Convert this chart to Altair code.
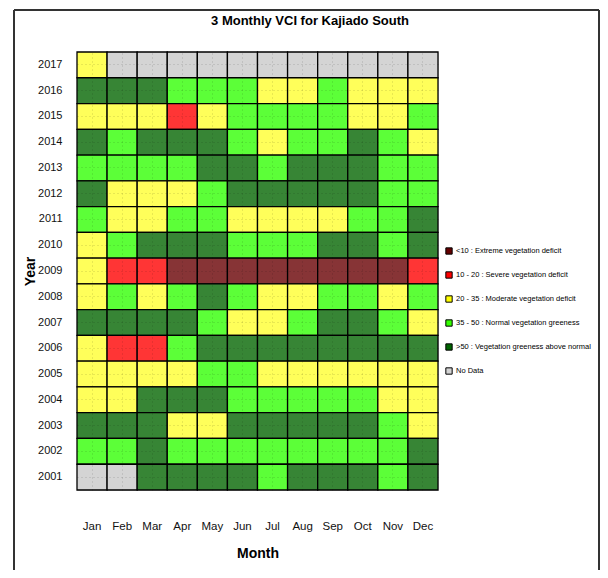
import altair as alt
import pandas as pd

# ---------------- data ----------------
months = ["Jan", "Feb", "Mar", "Apr", "May", "Jun", "Jul", "Aug", "Sep", "Oct", "Nov", "Dec"]
years = [2017, 2016, 2015, 2014, 2013, 2012, 2011, 2010, 2009,
         2008, 2007, 2006, 2005, 2004, 2003, 2002, 2001]

class_codes = ["E", "S", "M", "N", "A", "X"]
class_labels = [
    "<10 : Extreme vegetation deficit",
    "10 - 20 : Severe vegetation deficit",
    "20 - 35 : Moderate vegetation deficit",
    "35 - 50 : Normal vegetation greeness",
    ">50 : Vegetation greeness above normal",
    "No Data",
]
legend_colors = ["#640000", "#FF0000", "#FFFF00", "#33FF00", "#006400", "#D3D3D3"]
cell_colors = ["#873436", "#FF3535", "#FFFF5A", "#5CFF38", "#378535", "#D4D4D4"]

# VCI class per month (Jan..Dec) for each year
vci_2017 = ["M", "X", "X", "X", "X", "X", "X", "X", "X", "X", "X", "X"]
vci_2016 = ["A", "A", "A", "N", "N", "N", "M", "M", "N", "M", "M", "M"]
vci_2015 = ["M", "M", "M", "S", "M", "N", "N", "N", "N", "M", "M", "N"]
vci_2014 = ["A", "N", "A", "A", "A", "N", "M", "N", "N", "A", "N", "M"]
vci_2013 = ["N", "N", "N", "N", "A", "A", "N", "A", "A", "A", "N", "N"]
vci_2012 = ["A", "M", "M", "M", "N", "A", "A", "A", "A", "A", "N", "N"]
vci_2011 = ["N", "M", "M", "N", "N", "M", "M", "M", "M", "N", "N", "A"]
vci_2010 = ["M", "N", "A", "A", "A", "N", "N", "N", "A", "A", "N", "A"]
vci_2009 = ["M", "S", "S", "E", "E", "E", "E", "E", "E", "E", "E", "S"]
vci_2008 = ["M", "N", "M", "N", "A", "N", "M", "M", "N", "N", "M", "N"]
vci_2007 = ["A", "A", "A", "A", "N", "M", "M", "N", "A", "A", "N", "M"]
vci_2006 = ["M", "S", "S", "N", "A", "A", "A", "A", "A", "A", "A", "A"]
vci_2005 = ["M", "M", "M", "M", "N", "N", "M", "M", "M", "M", "M", "M"]
vci_2004 = ["M", "M", "A", "A", "A", "N", "N", "N", "N", "N", "M", "M"]
vci_2003 = ["A", "A", "A", "M", "M", "A", "A", "A", "A", "A", "N", "M"]
vci_2002 = ["N", "N", "A", "N", "N", "N", "N", "N", "N", "N", "N", "A"]
vci_2001 = ["X", "X", "A", "A", "A", "A", "N", "A", "A", "A", "N", "A"]

vci_rows = [vci_2017, vci_2016, vci_2015, vci_2014, vci_2013, vci_2012, vci_2011,
            vci_2010, vci_2009, vci_2008, vci_2007, vci_2006, vci_2005, vci_2004,
            vci_2003, vci_2002, vci_2001]

chart_title = "3 Monthly VCI for Kajiado South"

code_to_label = dict(zip(class_codes, class_labels))
records = []
for yr, row in zip(years, vci_rows):
    for m, c in zip(months, row):
        records.append({"year": str(yr), "month": m, "vci_class": code_to_label[c]})
df = pd.DataFrame(records)

FONT = "Liberation Sans, Arial, Helvetica, sans-serif"
year_order = [str(y) for y in years]

x_enc = alt.X(
    "month:N", sort=months,
    scale=alt.Scale(paddingInner=0, paddingOuter=0),
    axis=alt.Axis(title="Month", labelAngle=0, ticks=False, tickSize=0, domain=False,
                  labelPadding=30, labelFontSize=11.5, labelFont=FONT, labelColor="#111",
                  titleFont=FONT, titleFontSize=14, titleFontWeight="bold",
                  titlePadding=15, titleColor="#000",
                  grid=True, gridDash=[1, 3], gridColor="#000", gridOpacity=0.18,
                  bandPosition=0.5, zindex=1),
)
y_enc = alt.Y(
    "year:N", sort=year_order,
    scale=alt.Scale(paddingInner=0, paddingOuter=0),
    axis=alt.Axis(title="Year", ticks=False, tickSize=0, domain=False,
                  labelPadding=15, labelFontSize=11, labelFont=FONT, labelColor="#111",
                  titleFont=FONT, titleFontSize=14, titleFontWeight="bold",
                  titlePadding=0, titleColor="#000",
                  grid=True, gridDash=[1, 3], gridColor="#000", gridOpacity=0.18,
                  bandPosition=0.5, zindex=1),
)

base = alt.Chart(df).encode(x=x_enc, y=y_enc)

legend_layer = base.mark_rect().encode(
    fill=alt.Fill(
        "vci_class:N",
        scale=alt.Scale(domain=class_labels, range=legend_colors),
        legend=alt.Legend(
            title=None, orient="none", legendX=368, legendY=195,
            symbolType="square", symbolSize=40, symbolStrokeColor="#000",
            symbolStrokeWidth=1, rowPadding=12, labelFont=FONT, labelFontSize=7.5,
            labelColor="#000", labelLimit=300, labelOffset=3,
        ),
    )
)

cells = base.mark_rect(stroke="#000", strokeWidth=1.3).encode(
    color=alt.Color("vci_class:N",
                    scale=alt.Scale(domain=class_labels, range=cell_colors),
                    legend=None)
)

one = pd.DataFrame({"k": [0]})
title_mark = alt.Chart(one).mark_text(
    text=chart_title, font=FONT, fontSize=13, fontWeight="bold", color="#000",
    align="center", baseline="middle",
).encode(x=alt.value(233), y=alt.value(-31))

frame_left = alt.Chart(one).mark_rule(color="#333", strokeWidth=2).encode(
    x=alt.value(-63), y=alt.value(-42), y2=alt.value(518))
frame_top = alt.Chart(one).mark_rule(color="#333", strokeWidth=2).encode(
    x=alt.value(-63), x2=alt.value(522), y=alt.value(-42))
frame_right = alt.Chart(one).mark_rule(color="#333", strokeWidth=2).encode(
    x=alt.value(522), y=alt.value(-42), y2=alt.value(518))

chart = alt.layer(legend_layer, cells, title_mark, frame_left, frame_top, frame_right).properties(
    width=361, height=438,
    autosize=alt.AutoSizeParams(type="none"),
    padding={"left": 69, "top": 44, "right": 162, "bottom": 80},
).configure_view(stroke=None).configure(background="white")

chart.save("out.html", embed_options={"renderer": "svg", "actions": False})
